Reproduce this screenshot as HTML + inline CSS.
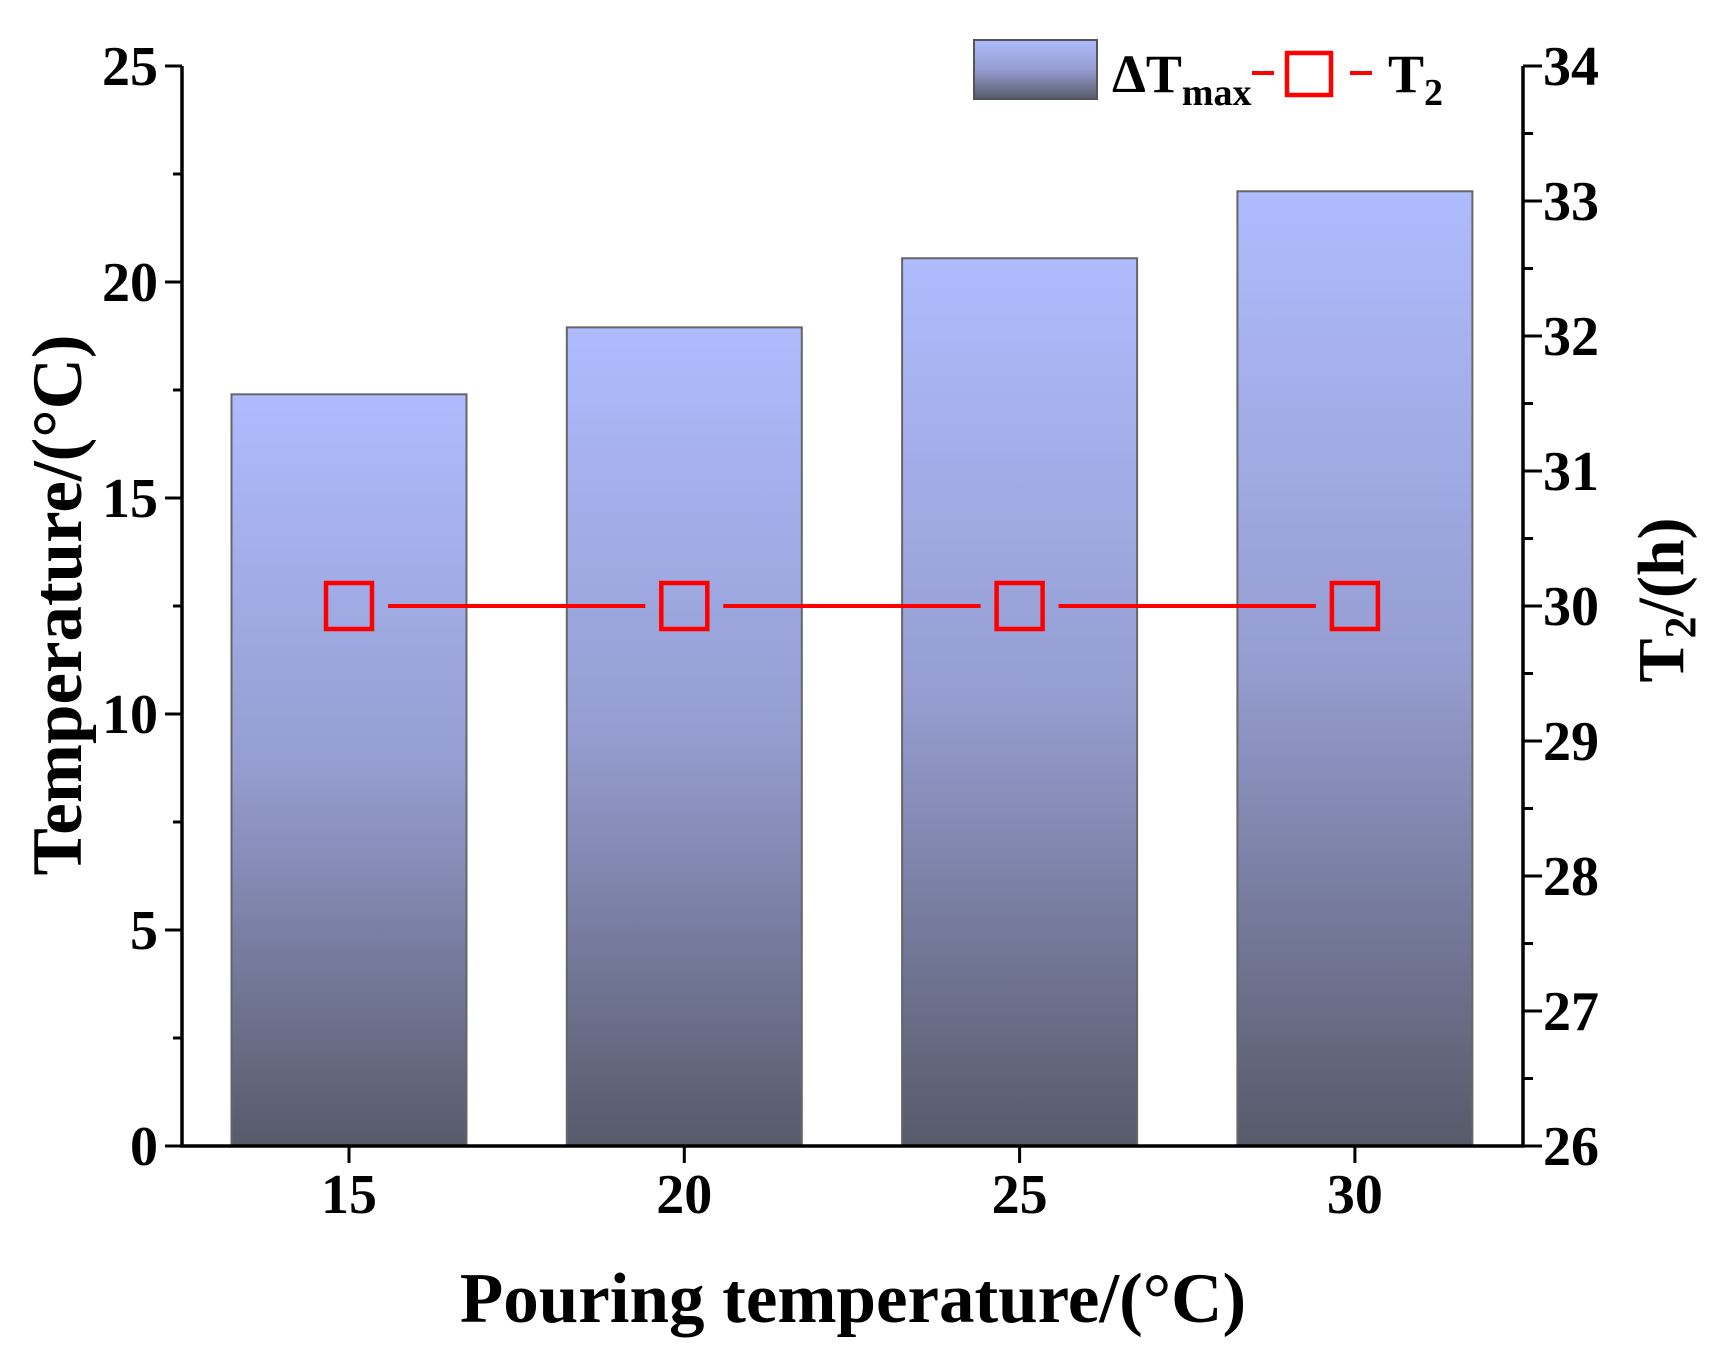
<!DOCTYPE html>
<html><head><meta charset="utf-8"><style>
html,body{margin:0;padding:0;background:#fff}
svg{display:block;font-family:"Liberation Serif",serif;font-weight:bold}
</style></head><body>
<svg id="chart" width="1724" height="1364" viewBox="0 0 1724 1364">
<defs><linearGradient id="bg" x1="0" y1="0" x2="0" y2="1">
<stop offset="0" stop-color="#aebbfd"/><stop offset="0.5" stop-color="#959dd0"/><stop offset="1" stop-color="#575a6a"/></linearGradient></defs>
<g id="plot"></g>
</svg>
<script>
const categories=[15,20,25,30];
const deltaTmax=[17.4,18.95,20.55,22.1];
const t2Values=[30,30,30,30];
const leftTicks=[0,5,10,15,20,25];
const rightTicks=[26,27,28,29,30,31,32,33,34];
const L=182,R=1523,B=1146,T=66;
const xPos=i=>349+i*335.3;
const yL=v=>B-(v/25)*(B-T);
const yR=v=>B-((v-26)/8)*(B-T);
const NS="http://www.w3.org/2000/svg";
const g=document.getElementById('plot');
function mk(tag,attrs,text){const e=document.createElementNS(NS,tag);for(const k in attrs)e.setAttribute(k,attrs[k]);if(text!==undefined)e.textContent=text;g.appendChild(e);return e;}
const bw=235;
categories.forEach((c,i)=>{
 const b=mk('rect',{x:xPos(i)-bw/2,y:yL(deltaTmax[i]),width:bw,height:B-yL(deltaTmax[i]),fill:'url(#bg)',stroke:'#666','stroke-width':2});
 
 
});
const ms=46;
for(let i=0;i<categories.length-1;i++){
 const l=mk('line',{x1:xPos(i)+ms/2+16,y1:yR(t2Values[i]),x2:xPos(i+1)-ms/2-16,y2:yR(t2Values[i+1]),stroke:'#f00','stroke-width':4});
 
 
}
categories.forEach((c,i)=>{
 const m=mk('rect',{x:xPos(i)-ms/2,y:yR(t2Values[i])-ms/2,width:ms,height:ms,fill:'none',stroke:'#f00','stroke-width':4.5});
 
 
});
const ax=mk('path',{d:`M${L},${T} V${B} H${R} V${T}`,fill:'none',stroke:'#000','stroke-width':3.5});


leftTicks.forEach(v=>{
 mk('line',{x1:L-17,y1:yL(v),x2:L,y2:yL(v),stroke:'#000','stroke-width':3});
 const t=mk('text',{x:L-24,y:yL(v)+19,'text-anchor':'end','font-size':56},v);
 
 
 if(v<25) mk('line',{x1:L-9,y1:yL(v+2.5),x2:L,y2:yL(v+2.5),stroke:'#000','stroke-width':3});
});
rightTicks.forEach(v=>{
 mk('line',{x1:R,y1:yR(v),x2:R+19,y2:yR(v),stroke:'#000','stroke-width':3});
 const t=mk('text',{x:R+20,y:yR(v)+19,'font-size':56},v);
 
 
 if(v<34) mk('line',{x1:R,y1:yR(v+0.5),x2:R+10,y2:yR(v+0.5),stroke:'#000','stroke-width':3});
});
categories.forEach((c,i)=>{
 mk('line',{x1:xPos(i),y1:B,x2:xPos(i),y2:B+17,stroke:'#000','stroke-width':3});
 const t=mk('text',{x:xPos(i),y:B+67,'text-anchor':'middle','font-size':56},c);
 
 
});
</script>
<svg style="position:absolute;left:0;top:0" width="1724" height="1364">
<text x="853" y="1322" text-anchor="middle" font-size="71" font-family="Liberation Serif,serif" font-weight="bold">Pouring temperature/(°C)</text>
<text transform="translate(81,605) rotate(-90)" text-anchor="middle" font-size="71" font-family="Liberation Serif,serif" font-weight="bold">Temperature/(°C)</text>
<text transform="translate(1683,600) rotate(-90)" text-anchor="middle" font-size="66" font-family="Liberation Serif,serif" font-weight="bold">T<tspan font-size="44" dy="12">2</tspan><tspan dy="-12">/(h)</tspan></text>
<g font-family="Liberation Serif,serif" font-weight="bold">
<rect x="974" y="40" width="123" height="59" fill="url(#bg)" stroke="#555" stroke-width="2"/>
<text x="1112" y="92" font-size="54">ΔT<tspan font-size="38" dy="13">max</tspan></text>
<line x1="1252" y1="73" x2="1274" y2="73" stroke="#f00" stroke-width="4"/>
<rect x="1287" y="53" width="44" height="42" fill="none" stroke="#f00" stroke-width="4.5"/>
<line x1="1350" y1="73" x2="1372" y2="73" stroke="#f00" stroke-width="4"/>
<text x="1388" y="92" font-size="54">T<tspan font-size="38" dy="13">2</tspan></text>
</g>
</svg>
</body></html>
